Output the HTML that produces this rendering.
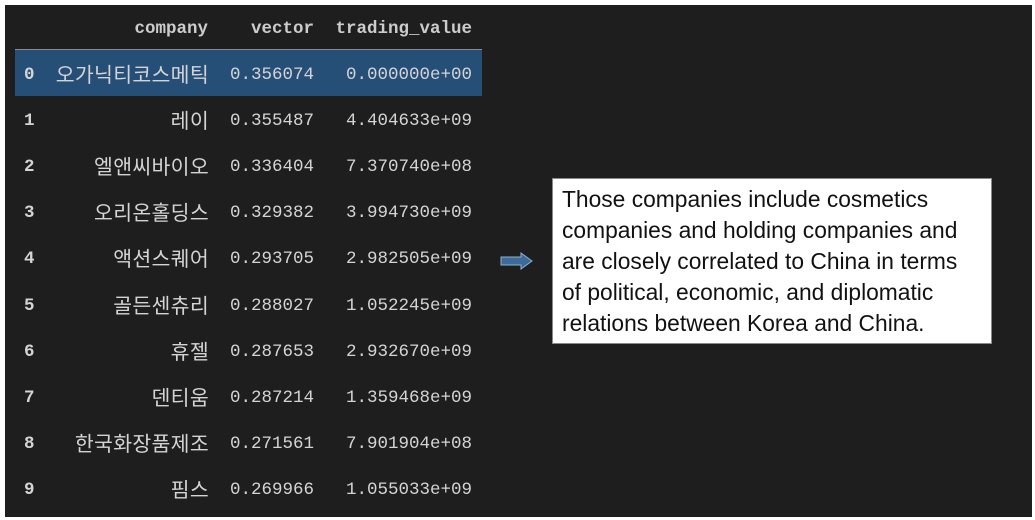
<!DOCTYPE html>
<html><head><meta charset="utf-8">
<style>
html,body{margin:0;padding:0;}
body{width:1035px;height:520px;background:#fff;position:relative;overflow:hidden;font-family:"Liberation Mono","Noto Sans CJK KR",monospace;}
#panel{position:absolute;left:5px;top:5px;width:1027px;height:512px;background:#1e1e1e;}
.c{position:absolute;color:#d4d4d4;font-size:17.5px;line-height:20px;white-space:nowrap;}
.h{font-weight:bold;color:#cccccc;}
.idx{font-weight:bold;}
.ko{font-family:"Noto Sans CJK KR","NanumGothic",sans-serif;font-size:20.5px;letter-spacing:0.3px;}
#hl{position:absolute;left:15px;top:50px;width:467px;height:46px;background:#264f78;}
#hline{position:absolute;left:15px;top:49px;width:467px;height:1px;background:#8a8a8a;}
#note{position:absolute;left:552px;top:178px;width:440px;height:166px;background:#fff;border:1px solid #888;box-sizing:border-box;padding:5px 0 0 9px;font-family:"Liberation Sans",sans-serif;font-size:22.8px;line-height:31px;color:#111;white-space:nowrap;overflow:hidden;}
</style></head><body>
<div id="panel"></div>
<div id="hl"></div>
<div id="hline"></div>
<div id="table"></div>
<div id="note">Those companies include cosmetics<br>companies and holding companies and<br>are closely correlated to China in terms<br>of political, economic, and diplomatic<br>relations between Korea and China.</div>
<svg style="position:absolute;left:499px;top:252px" width="36" height="18">
<path d="M2 5 H22 V1 L33 9 L22 17 V13 H2 Z" fill="#3d6a99" stroke="#8fb0d0" stroke-width="1"/>
</svg>
<script>
const companies=["오가닉티코스메틱","레이","엘앤씨바이오","오리온홀딩스","액션스퀘어","골든센츄리","휴젤","덴티움","한국화장품제조","핌스"];
const vectors=["0.356074","0.355487","0.336404","0.329382","0.293705","0.288027","0.287653","0.287214","0.271561","0.269966"];
const trading=["0.000000e+00","4.404633e+09","7.370740e+08","3.994730e+09","2.982505e+09","1.052245e+09","2.932670e+09","1.359468e+09","7.901904e+08","1.055033e+09"];
const body=document.body;
function cell(txt,cls,right,top,left){
  const d=document.createElement('div');
  d.className='c '+cls;
  d.textContent=txt;
  d.style.top=top+'px';
  if(right!=null) d.style.right=(1035-right)+'px'; else d.style.left=left+'px';
  body.appendChild(d);
  return d;
}
let e;
e=cell('company','h',208,19);


e=cell('vector','h',314,19);


e=cell('trading_value','h',472,19);


for(let i=0;i<companies.length;i++){
  const cy=75+i*46.1;
  e=cell(String(i),'idx',null,cy-10,24);
  
  
  e=cell(companies[i],'ko',209,cy-12);
  
  
  e=cell(vectors[i],'',314,cy-10);
  
  
  e=cell(trading[i],'',472,cy-10);
  
  
}
</script>
</body></html>
